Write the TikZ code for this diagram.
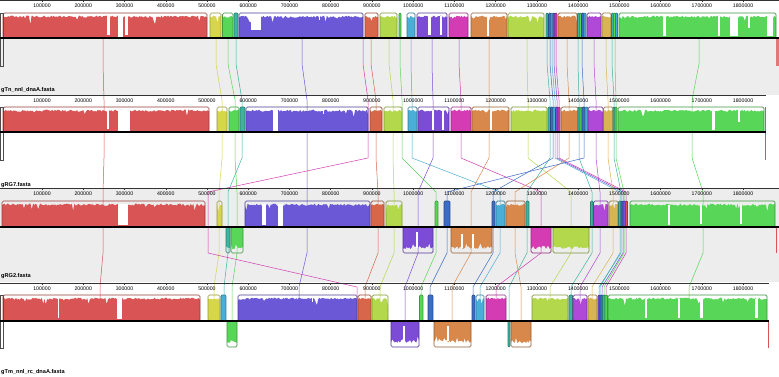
\documentclass[tikz,border=0pt]{standalone}
\usepackage{fontspec}
\setmainfont{Liberation Sans}
\definecolor{cRed}{HTML}{D95555}
\definecolor{cYel}{HTML}{D6D64A}
\definecolor{cGrn}{HTML}{58D658}
\definecolor{cTeal}{HTML}{3CB4A0}
\definecolor{cBlu}{HTML}{6A58D6}
\definecolor{cTom}{HTML}{D8664A}
\definecolor{cYG}{HTML}{B4D84C}
\definecolor{cCya}{HTML}{4AAED6}
\definecolor{cPur}{HTML}{7C4CD6}
\definecolor{cMag}{HTML}{D43CB4}
\definecolor{cOra}{HTML}{D8884A}
\definecolor{cPurB}{HTML}{B048D8}
\definecolor{cGold}{HTML}{D8B454}
\definecolor{cBluB}{HTML}{3C6CC8}
\definecolor{cBg}{HTML}{EDEDED}
\tikzset{
  lcb/.style={line width=0.5pt},
  ctr/.style={line width=1.1pt, black},
  ruler/.style={line width=0.6pt, black!80},
  rlab/.style={font=\fontsize{5.2}{6}\selectfont, inner sep=0pt},
  glab/.style={font=\fontsize{5.6}{6.5}\selectfont\bfseries, inner sep=0pt, anchor=west},
}
% upper block with histogram: colour, x1, x2, top, bottom(centre)
\newcommand\ublk[5]{%
  \pgfmathtruncatemacro\ns{max(2,int((#3-#2)/1.3)+2)}%
  \fill[#1] (#2,#5) -- plot[domain=#2:#3, samples=\ns] (\x,{#4+2.6+2.2*rnd+(rnd>0.93)*7*rnd}) -- (#3,#5) -- cycle;
  \draw[#1!70!black, line width=0.7pt, rounded corners=1.5pt] (#2,#4) rectangle (#3,#5);}
% lower block (inverted histogram)
\newcommand\lblk[5]{%
  \pgfmathtruncatemacro\ns{max(2,int((#3-#2)/1.3)+2)}%
  \fill[#1] (#2,#4) -- plot[domain=#2:#3, samples=\ns] (\x,{#5-4-3*rnd-(rnd>0.9)*6*rnd}) -- (#3,#4) -- cycle;
  \draw[#1!70!black, line width=0.7pt, rounded corners=1.5pt] (#2,#4) rectangle (#3,#5);}
% thin block
\newcommand\tblk[5]{%
  \fill[#1] (#2,#4) rectangle (#3,#5);
  \draw[#1!70!black, line width=0.6pt, rounded corners=1pt] (#2,#4) rectangle (#3,#5);}
\newcommand\dip[4]{\fill[white] (#1,#3) rectangle (#2,#4);}
% connector through the four genomes
\newcommand\lcbline[5]{%
  \draw[lcb,#1] (#2,38) -- (#2,64) -- (#3,100) -- (#3,158) -- (#4,192) -- (#4,253) -- (#5,287) -- (#5,321);}
\newcommand\rulerrow[3]{% y of line, y of labels, length
  \draw[ruler] (0,#1) -- (#3,#1);
  \foreach \k in {1,...,18}{%
    \pgfmathsetmacro\xx{0.76+41.24*\k}
    \draw[ruler, line width=0.4pt] (\xx,#1) -- (\xx,#1+1.5);
    \node[rlab] at (\xx,#2) {\k00000};}}
\begin{document}
\begin{tikzpicture}[x=1pt,y=-1pt]
\pgfmathsetseed{11}
\useasboundingbox (0,0) rectangle (779,377);
\fill[white] (0,0) rectangle (779,377);
% backgrounds
\fill[cBg] (0,38) rectangle (779,95);
\fill[cBg] (0,188) rectangle (779,282);
% connectors
\lcbline{cRed}{103}{104}{103}{100}
\lcbline{cYel}{216}{222}{219}{214}
\lcbline{cGrn}{228}{235}{237}{232}
\lcbline{cTeal}{236}{242}{228}{224}
\lcbline{cBlu}{302}{307}{307}{299}
\lcbline{cMag}{363}{368}{208}{357}
\lcbline{cTom}{371}{376}{378}{365}
\lcbline{cYG}{389}{393}{394}{380}
\lcbline{cGrn}{400}{402}{436}{421}
\lcbline{cCya}{411}{412}{500}{480}
\lcbline{cPur}{432}{433}{418}{405}
\lcbline{cMag}{459}{461}{541}{496}
\lcbline{cOra}{489}{489}{471}{452}
\lcbline{cYG}{527}{528}{571}{550}
\lcbline{cTeal}{547}{550}{527}{509}
\lcbline{cBluB}{550}{553}{493}{473}
\lcbline{cCya}{552}{555}{620}{600}
\lcbline{cPur}{554}{557}{623}{602}
\lcbline{cMag}{556}{559}{626}{606}
\lcbline{cOra}{567}{569}{515}{521}
\lcbline{cTeal}{578}{579}{592}{571}
\lcbline{cBluB}{582}{584}{447}{430}
\lcbline{cPurB}{594}{596}{600}{580}
\lcbline{cGold}{606}{608}{613}{592}
\lcbline{cTeal}{612}{614}{621}{599}
\lcbline{cGrn}{615}{616}{624}{604}
\lcbline{cGrn}{699}{692}{703}{689}
% ---------- genome 1 ----------
\ublk{cRed}{3}{207}{13}{38}
\dip{107}{110}{15}{35}\dip{118}{123}{15}{37}\dip{125}{128}{15}{35}
\ublk{cYel}{210}{221}{13}{38}
\ublk{cGrn}{222.5}{233}{13}{38}
\tblk{cTeal}{234}{238}{13}{38}
\ublk{cBlu}{239}{363}{13}{38}
\dip{251}{261}{16}{30}\draw[white,line width=0.8pt] (319,14) -- (319,20);
\ublk{cTom}{365}{378}{13}{38}
\ublk{cYG}{380}{397}{13}{38}
\tblk{cGrn}{399}{401}{13}{38}
\ublk{cCya}{407}{415}{13}{38}
\ublk{cPur}{417}{447}{13}{38}
\dip{428}{431}{16}{35}\dip{440}{442}{16}{35}
\ublk{cMag}{449}{468}{13}{38}
\ublk{cOra}{471}{507}{13}{38}
\dip{487}{489}{16}{36}
\ublk{cYG}{508}{544}{13}{38}
\tblk{cTeal}{546}{548}{13}{38}\tblk{cBluB}{548.5}{551}{13}{38}\tblk{cCya}{551}{553}{13}{38}
\tblk{cPur}{553}{555}{13}{38}\tblk{cMag}{555}{557}{13}{38}
\ublk{cOra}{558}{577}{13}{38}
\tblk{cTeal}{577.5}{579.5}{13}{38}\tblk{cGrn}{579.5}{581.5}{13}{38}\tblk{cBluB}{581.5}{584}{13}{38}\tblk{cCya}{584}{586}{13}{38}
\ublk{cPurB}{587}{601}{13}{38}
\ublk{cGold}{602}{611}{13}{38}
\tblk{cTeal}{611.5}{613.5}{13}{38}\tblk{cGrn}{613.5}{615.5}{13}{38}\tblk{cCya}{615.5}{617.5}{13}{38}
\ublk{cGrn}{619}{776}{13}{38}
\dip{663}{666}{16}{36}\dip{718}{720}{16}{36}\dip{730}{738}{16}{36}\dip{767}{773}{16}{36}\dip{748}{750}{16}{28}
\fill[cRed!80] (776,38) rectangle (778.5,66);
\draw[black!70, line width=0.6pt] (0.5,13) rectangle (3,66);
\draw[ctr] (0,38) -- (779,38);
% ---------- genome 2 ----------
\ublk{cRed}{3}{209}{107}{132}
\dip{107}{109}{109}{129}\dip{118}{130}{110}{131}
\ublk{cYel}{217}{227}{107}{132}
\ublk{cGrn}{229}{239}{107}{132}
\tblk{cTeal}{240}{245}{107}{132}
\ublk{cBlu}{246}{368}{107}{132}
\dip{273}{278}{110}{131}\draw[white,line width=0.8pt] (323,108) -- (323,114);
\ublk{cTom}{370}{382}{107}{132}
\ublk{cYG}{384}{402}{107}{132}
\ublk{cCya}{408}{417}{107}{132}
\ublk{cPur}{418}{449}{107}{132}
\dip{432}{434}{110}{130}\dip{442}{444}{110}{130}
\ublk{cMag}{451}{471}{107}{132}
\ublk{cOra}{472}{509}{107}{132}
\dip{490}{492}{110}{130}
\ublk{cYG}{511}{547}{107}{132}
\tblk{cTeal}{548}{550.5}{107}{132}\tblk{cBluB}{550.5}{553}{107}{132}\tblk{cCya}{553}{555.5}{107}{132}
\tblk{cPur}{555.5}{558}{107}{132}\tblk{cMag}{558}{560}{107}{132}
\ublk{cOra}{561}{578}{107}{132}
\tblk{cTeal}{578}{580}{107}{132}\tblk{cGrn}{580}{582}{107}{132}\tblk{cBluB}{582}{585}{107}{132}\tblk{cCya}{585}{588}{107}{132}
\ublk{cPurB}{588}{603}{107}{132}
\ublk{cGold}{603.5}{613}{107}{132}
\tblk{cTeal}{613}{615}{107}{132}\tblk{cGrn}{615}{617}{107}{132}
\ublk{cGrn}{618}{764}{107}{132}
\dip{712}{715}{110}{130}\dip{738}{740}{110}{122}
\fill[cRed] (764.5,107) rectangle (766,160);
\draw[black!70, line width=0.6pt] (0.5,107) rectangle (3,160);
\draw[ctr] (0,132) -- (766,132);
% ---------- genome 3 ----------
\ublk{cRed}{2}{205}{201}{227}
\dip{118}{128}{204}{225}
\ublk{cYel}{217}{222}{201}{227}
\lblk{cTeal}{226}{230}{227}{253}
\lblk{cGrn}{231}{243}{227}{253}
\ublk{cBlu}{245}{370}{201}{227}
\dip{262}{266}{204}{225}\dip{278}{283}{204}{226}
\ublk{cTom}{371}{384}{201}{227}
\ublk{cYG}{386}{402}{201}{227}
\lblk{cPur}{403}{433}{227}{253}
\dip{416}{418}{232}{248}
\tblk{cGrn}{435}{438}{201}{227}
\tblk{cBluB}{444}{450}{201}{227}
\lblk{cOra}{451}{492}{227}{253}
\dip{461}{463}{234}{248}\dip{472}{474}{234}{248}
\tblk{cBluB}{492}{495}{201}{227}
\ublk{cCya}{496}{505}{201}{227}
\ublk{cOra}{506}{525}{201}{227}
\tblk{cTeal}{526}{529}{201}{227}
\lblk{cMag}{531}{551}{227}{253}
\lblk{cYG}{553}{589}{227}{253}
\tblk{cTeal}{590.5}{593}{201}{227}
\ublk{cPurB}{593.5}{608}{201}{227}
\ublk{cGold}{609}{618}{201}{227}
\tblk{cTeal}{618.5}{621}{201}{227}\tblk{cBluB}{621}{623}{201}{227}\tblk{cPur}{623}{625.5}{201}{227}\tblk{cRed}{625.5}{627.5}{201}{227}
\ublk{cGrn}{630}{775}{201}{227}
\dip{668}{670}{205}{225}\dip{700}{702}{205}{224}\dip{740}{742}{205}{224}
\fill[cRed] (775.5,227) rectangle (777,253);
\draw[ctr] (0,227) -- (779,227);
% ---------- genome 4 ----------
\ublk{cRed}{3}{200}{295}{321}
\dip{117}{122}{298}{319}\dip{58}{59}{298}{318}
\ublk{cYel}{208}{220}{295}{321}
\tblk{cCya}{221}{226}{295}{321}
\lblk{cGrn}{227}{237}{321}{347}
\ublk{cBlu}{238}{357}{295}{321}
\draw[white,line width=0.8pt] (312,296) -- (312,302);
\ublk{cTom}{358}{371}{295}{321}
\ublk{cYG}{372}{388}{295}{321}
\lblk{cPur}{391}{419}{321}{347}
\dip{403}{405}{326}{341}
\tblk{cGrn}{419.5}{423}{295}{321}
\tblk{cBluB}{428}{433}{295}{321}
\lblk{cOra}{434}{471}{321}{347}
\dip{447}{449}{326}{341}
\tblk{cBluB}{472}{475}{295}{321}
\ublk{cCya}{476}{484}{295}{321}
\ublk{cMag}{486}{506}{295}{321}
\tblk{cTeal}{508}{510}{321}{347}
\lblk{cOra}{511}{531}{321}{347}
\ublk{cYG}{532}{568}{295}{321}
\tblk{cTeal}{569}{572.5}{295}{321}
\ublk{cPurB}{573}{587}{295}{321}
\ublk{cGold}{588}{597}{295}{321}
\tblk{cPur}{598}{600}{295}{321}\tblk{cBluB}{600}{602.5}{295}{321}\tblk{cTeal}{602.5}{605}{295}{321}\tblk{cGrn}{605}{607.5}{295}{321}
\ublk{cGrn}{608}{767}{295}{321}
\dip{645}{647}{299}{318}\dip{678}{680}{299}{318}\dip{700}{703}{299}{318}\dip{755}{758}{299}{318}
\fill[cRed] (767.5,321) rectangle (769,348);
\draw[black!70, line width=0.6pt] (0.5,295) rectangle (3,348);
\draw[ctr] (0,321) -- (769,321);
% ---------- rulers ----------
\rulerrow{0.3}{5.5}{779}
\rulerrow{95}{100.5}{766}
\rulerrow{188}{194}{779}
\rulerrow{283}{288.5}{769}
% ---------- labels ----------
\node[glab] at (1,90.5) {gTn\_nnl\_dnaA.fasta};
\node[glab] at (1,185) {gRG7.fasta};
\node[glab] at (1,276) {gRG2.fasta};
\node[glab] at (1,372) {gTm\_nnl\_rc\_dnaA.fasta};
\end{tikzpicture}
\end{document}
